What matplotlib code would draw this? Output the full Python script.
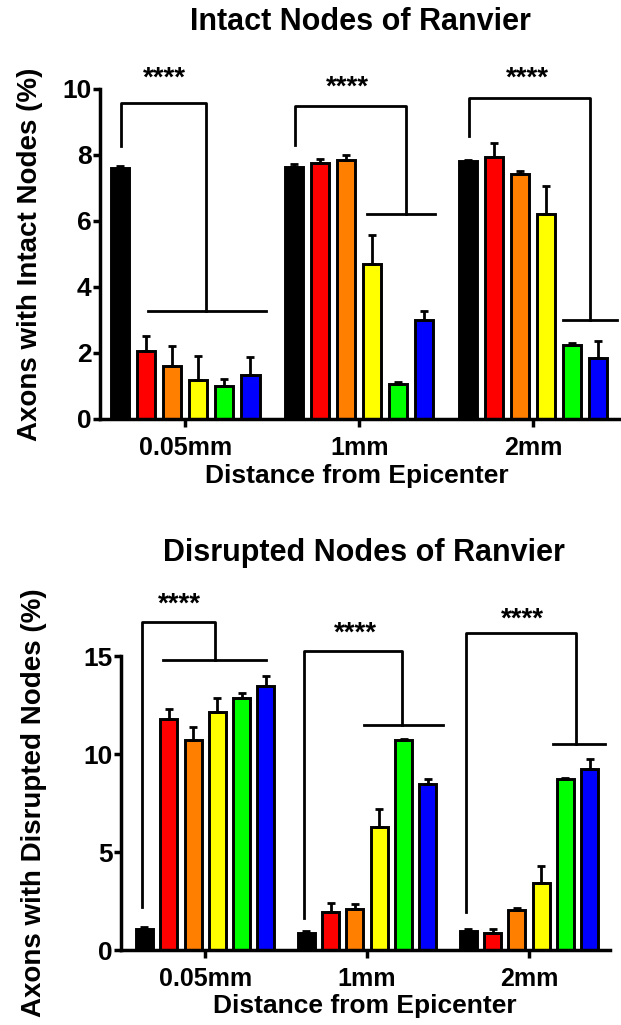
import matplotlib
matplotlib.use('Agg')
import matplotlib.pyplot as plt
import numpy as np

plt.rcParams['font.family'] = ['Liberation Sans', 'DejaVu Sans']
plt.rcParams['font.weight'] = 'bold'

# data
groups = ['0.05mm', '1mm', '2mm']
colors = ['#000000', '#ff0000', '#ff8000', '#ffff00', '#00ff00', '#0000ff']

intact_mean = [[7.60, 2.07, 1.62, 1.17, 1.01, 1.34],
               [7.64, 7.76, 7.84, 4.69, 1.06, 3.01],
               [7.81, 7.94, 7.43, 6.21, 2.24, 1.85]]
intact_err = [[0.08, 0.46, 0.60, 0.73, 0.20, 0.53],
              [0.09, 0.13, 0.16, 0.89, 0.05, 0.25],
              [0.05, 0.42, 0.09, 0.86, 0.06, 0.50]]

disrupt_mean = [[1.07, 11.80, 10.70, 12.15, 12.86, 13.45],
                [0.88, 1.92, 2.09, 6.28, 10.70, 8.49],
                [0.99, 0.85, 2.04, 3.40, 8.75, 9.21]]
disrupt_err = [[0.08, 0.50, 0.68, 0.73, 0.27, 0.55],
               [0.09, 0.49, 0.24, 0.91, 0.09, 0.26],
               [0.06, 0.20, 0.08, 0.90, 0.05, 0.51]]

# significance brackets: x_left, y_start, y_top, x_mid, y_low, x_low0, x_low1, star_x, star_y
intact_sig = [[-0.37, 8.26, 9.58, 0.12, 3.28, -0.215, 0.465, -0.12, 10.30],
              [0.63, 8.31, 9.47, 1.27, 6.22, 1.046, 1.437, 0.934, 10.05],
              [1.63, 8.59, 9.73, 2.33, 3.01, 2.17, 2.48, 1.97, 10.30]]
disrupt_sig = [[-0.39, 2.21, 16.73, 0.06, 14.78, -0.26, 0.376, -0.16, 17.60],
               [0.61, 1.61, 15.25, 1.216, 11.47, 0.98, 1.47, 0.93, 16.15],
               [1.61, 1.95, 16.17, 2.29, 10.50, 2.15, 2.47, 1.96, 16.85]]

W, H = 621, 1025
step = 0.15
bw = 0.105


def draw_panel(ax, means, errs, sig, ymax, yticks, xlim):
	x = np.arange(len(groups))
	for i in range(len(colors)):
		xs = x + (i - 2.5) * step
		m = [means[g][i] for g in range(len(groups))]
		e = [errs[g][i] for g in range(len(groups))]
		ax.bar(xs, m, width=bw, color=colors[i], edgecolor='black', linewidth=2.1, zorder=2)
		ax.errorbar(xs, m, yerr=[np.zeros(len(m)), e], fmt='none', ecolor='black',
			elinewidth=2.0, capsize=3.2, capthick=2.0, zorder=3)
	for s in sig:
		xl, y0, yt, xm, yl, xa, xb, sx, sy = s
		ax.plot([xl, xl, xm, xm], [y0, yt, yt, yl], color='black', lw=2.0, clip_on=False, zorder=4)
		ax.plot([xa, xb], [yl, yl], color='black', lw=2.0, clip_on=False, zorder=4)
		ax.text(sx, sy, '****', ha='center', va='center', fontsize=20, fontweight='bold')
	ax.set_xlim(xlim)
	ax.set_ylim(0, ymax)
	ax.set_yticks(yticks)
	ax.set_xticks(x)
	ax.set_xticklabels(groups)
	for sp in ['top', 'right']:
		ax.spines[sp].set_visible(False)
	for sp in ['left', 'bottom']:
		ax.spines[sp].set_linewidth(2.5)
	ax.tick_params(axis='y', length=5, width=2.5, labelsize=19, pad=1)
	ax.tick_params(axis='x', length=6, width=2.5, labelsize=18, pad=6)


fig = plt.figure(figsize=(W / 100, H / 100), dpi=100)

ax1 = fig.add_axes([100 / W, 1 - 419 / H, 520 / W, 330 / H])
draw_panel(ax1, intact_mean, intact_err, intact_sig, 10, [0, 2, 4, 6, 8, 10], (-0.49, 2.5))

ax2 = fig.add_axes([121 / W, 1 - 950 / H, 489 / W, 294 / H])
draw_panel(ax2, disrupt_mean, disrupt_err, disrupt_sig, 15, [0, 5, 10, 15], (-0.52, 2.5))

fig.text(360 / W, 1 - 22 / H, 'Intact Nodes of Ranvier', ha='center', va='center', fontsize=22, fontweight='bold')
fig.text(364 / W, 1 - 553 / H, 'Disrupted Nodes of Ranvier', ha='center', va='center', fontsize=22, fontweight='bold')
fig.text(357 / W, 1 - 476 / H, 'Distance from Epicenter', ha='center', va='center', fontsize=19, fontweight='bold')
fig.text(365 / W, 1 - 1006 / H, 'Distance from Epicenter', ha='center', va='center', fontsize=19, fontweight='bold')
fig.text(30 / W, 1 - 254 / H, 'Axons with Intact Nodes (%)', ha='center', va='center', rotation=90, fontsize=20, fontweight='bold')
fig.text(34 / W, 1 - 803 / H, 'Axons with Disrupted Nodes (%)', ha='center', va='center', rotation=90, fontsize=20, fontweight='bold')

fig.savefig('out.png', dpi=100)
